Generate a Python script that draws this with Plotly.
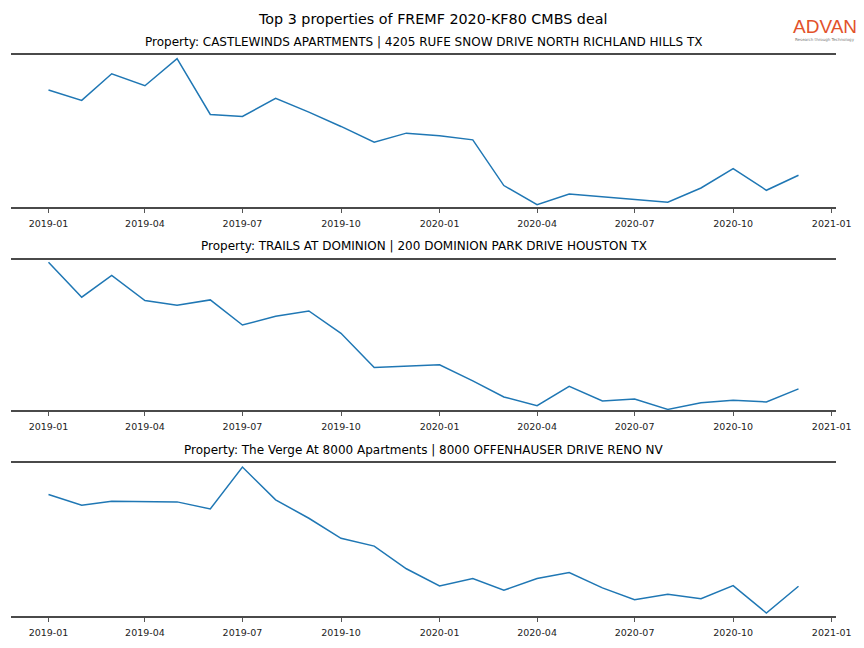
import plotly.graph_objects as go
import pandas as pd

months = pd.date_range("2019-01-01", "2020-12-01", freq="MS")

titles = [
    "Property: CASTLEWINDS APARTMENTS | 4205 RUFE SNOW DRIVE NORTH RICHLAND HILLS TX",
    "Property: TRAILS AT DOMINION | 200 DOMINION PARK DRIVE HOUSTON TX",
    "Property: The Verge At 8000 Apartments | 8000 OFFENHAUSER DRIVE RENO NV",
]

castlewinds = [116.7, 106.4, 133.0, 121.0, 148.0, 92.4, 90.4, 108.4, 94.7, 80.4, 64.7, 73.7,
               71.0, 67.0, 21.4, 2.4, 13.0, 10.4, 7.5, 4.7, 19.0, 38.4, 16.7, 31.7]
trails = [147.0, 112.3, 134.0, 109.0, 104.3, 109.6, 84.6, 93.3, 98.6, 76.3, 42.3, 43.6,
          45.0, 29.0, 13.0, 4.3, 23.6, 9.0, 11.0, 0.6, 7.3, 9.6, 8.0, 21.0]
verge = [121.0, 110.3, 114.3, 114.3, 113.6, 106.6, 148.3, 115.6, 97.3, 77.3, 69.6, 47.0,
         30.0, 37.3, 25.6, 37.3, 43.3, 28.0, 16.3, 21.6, 17.3, 30.3, 3.0, 29.6]
series = [castlewinds, trails, verge]
y_limits = [151.7, 149.3, 152.3]

W, H = 864, 648
x0, x1 = 11 / W, 836 / W
domains = [(1 - 207 / H, 1 - 55 / H), (1 - 410 / H, 1 - 260 / H), (1 - 616 / H, 1 - 463 / H)]
title_y = [42, 246, 450]

fig = go.Figure()
font = "DejaVu Sans, Arial, sans-serif"
spine = "#4a4a4a"

for i, (vals, dom, ttl, ty, ylim) in enumerate(zip(series, domains, titles, title_y, y_limits)):
    n = "" if i == 0 else str(i + 1)
    fig.add_trace(go.Scatter(x=months, y=vals, mode="lines",
                             line=dict(color="#1f77b4", width=1.5),
                             xaxis="x" + n, yaxis="y" + n, showlegend=False))
    fig.layout["xaxis" + n] = dict(
        domain=[x0, x1], anchor="y" + n,
        range=["2018-11-27", "2021-01-05"],
        tick0="2019-01-01", dtick="M3", tickformat="%Y-%m",
        ticks="outside", ticklen=4, tickwidth=1, tickcolor="#555555",
        ticklabelstandoff=3,
        showline=True, linecolor=spine, linewidth=2, mirror=True,
        showgrid=False, zeroline=False, automargin=False,
        tickfont=dict(family=font, size=9.5, color="#222222"),
    )
    fig.layout["yaxis" + n] = dict(
        domain=list(dom), anchor="x" + n, range=[0, ylim], automargin=False,
        showticklabels=False, showgrid=False, zeroline=False, showline=False, ticks="",
    )
    fig.add_annotation(text=ttl, x=(x0 + x1) / 2, y=1 - ty / H, xref="paper", yref="paper",
                       xanchor="center", yanchor="middle", showarrow=False,
                       font=dict(family=font, size=12, color="#000000"))

fig.add_annotation(text="Top 3 properties of FREMF 2020-KF80 CMBS deal", x=0.5, y=1 - 19 / H,
                   xref="paper", yref="paper", xanchor="center", yanchor="middle",
                   showarrow=False, font=dict(family=font, size=14.3, color="#000000"))

# logo
fig.add_annotation(text="ADVAN", x=824.5 / W, y=1 - 27 / H, xref="paper", yref="paper",
                   xanchor="center", yanchor="middle", showarrow=False,
                   font=dict(family="Liberation Sans, Arial, sans-serif", size=19, color="#e2522b"))
fig.add_annotation(text="Research through Technology", x=824.5 / W, y=1 - 39.5 / H,
                   xref="paper", yref="paper", xanchor="center", yanchor="middle",
                   showarrow=False, font=dict(family=font, size=4, color="#777777"))

fig.update_layout(width=W, height=H, margin=dict(l=0, r=0, t=0, b=0, autoexpand=False),
                  paper_bgcolor="white", plot_bgcolor="white", hovermode=False)

post = ("document.body.style.margin='0';document.body.style.overflow='hidden';"
        "var gd=document.getElementById('{plot_id}');"
        "Plotly.relayout(gd,{width:%d,height:%d});" % (W, H))

fig.write_html("out.html", config={"responsive": False, "displayModeBar": False},
               post_script=post)
